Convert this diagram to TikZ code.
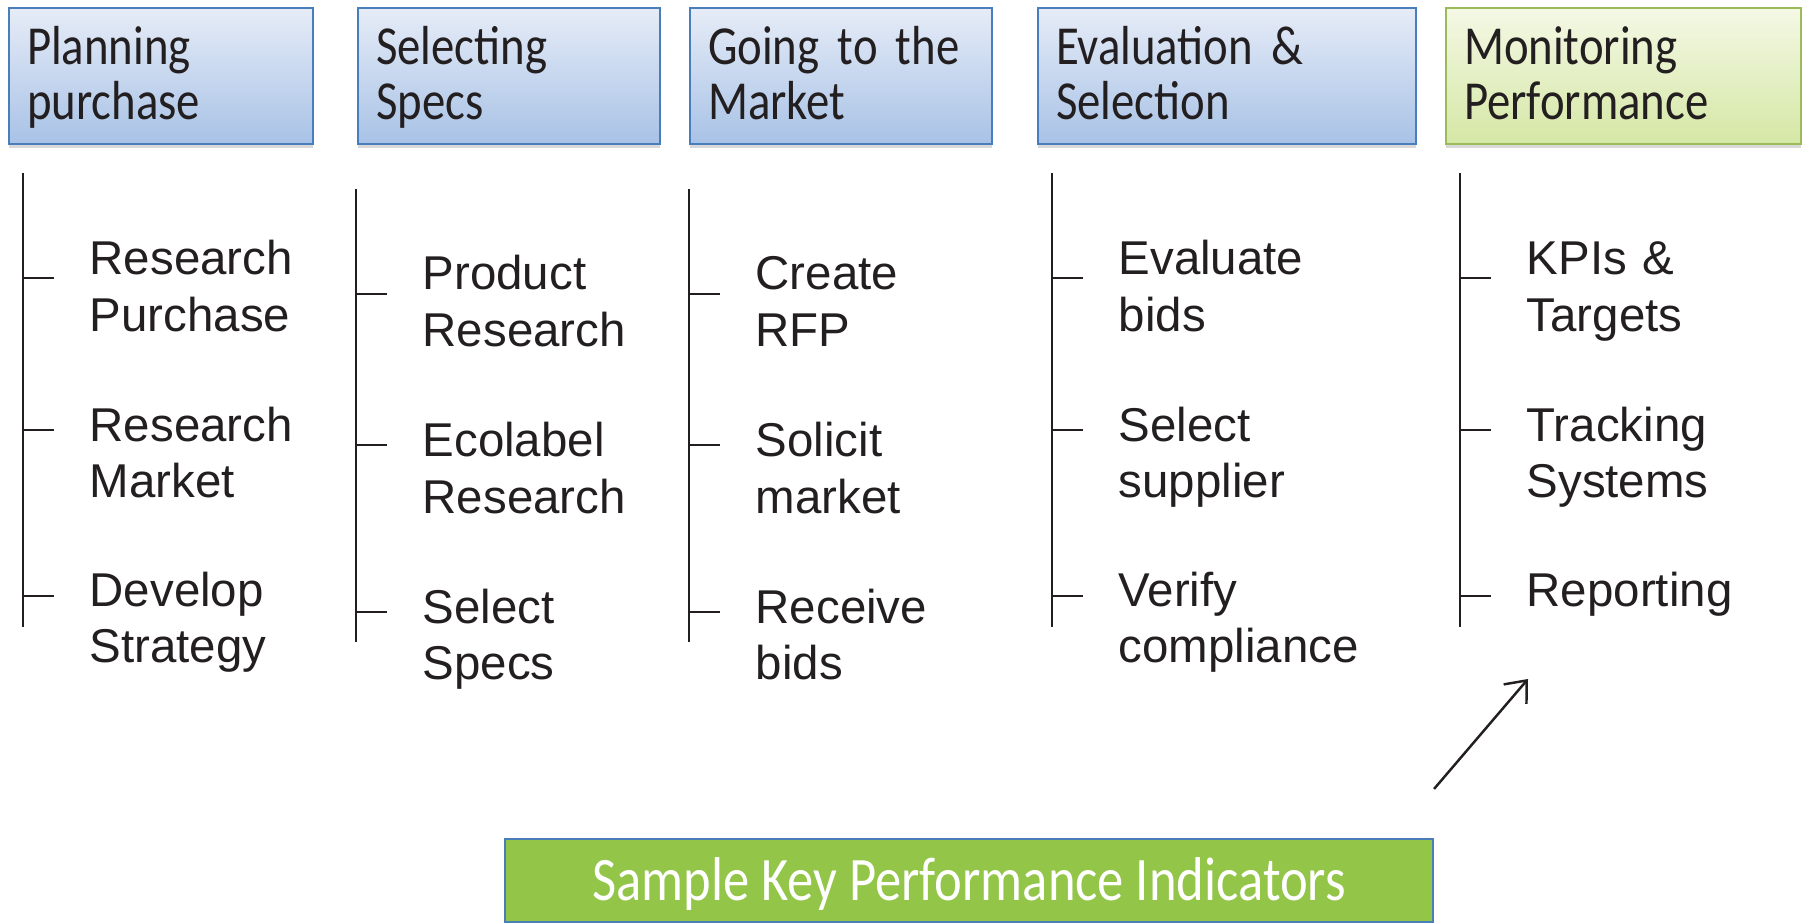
\documentclass[tikz,border=0pt]{standalone}
\usepackage{fontspec}
\usepackage{tikz}
\usetikzlibrary{arrows.meta,shadows}
\setmainfont{Liberation Sans}
\newfontfamily\hdfont[FakeStretch=0.85]{Carlito}
\DeclareRobustCommand\hdtext{\hdfont\fontsize{15.65}{15.65}\selectfont\fontdimen2\font=2.5pt\relax}

\definecolor{hdline}{HTML}{4A7EBB}
\definecolor{hdtop}{HTML}{E6ECF7}
\definecolor{hdbot}{HTML}{A8C2E6}
\definecolor{mptop}{HTML}{F4F8E5}
\definecolor{mpbot}{HTML}{D5E7A5}
\definecolor{mpline}{HTML}{9BBB59}
\definecolor{kpifill}{HTML}{92C548}
\definecolor{txtdark}{HTML}{231F20}

\tikzset{
  header/.style={draw=hdline, line width=0.6pt, top color=hdtop, bottom color=hdbot,
    anchor=north west, align=left, inner xsep=0.18cm, inner ysep=0pt,
    text height=0.56cm, text depth=0.80cm, text=txtdark, font=\hdtext,
    drop shadow={shadow xshift=0pt, shadow yshift=-0.04cm, opacity=0.3}},
  item/.style={anchor=base west, inner sep=0pt, text width=3cm, align=left,
    text=txtdark, font=\fontsize{13.5}{16.2}\selectfont},
  tree/.style={line width=0.55pt, draw=txtdark}
}

\begin{document}
\begin{tikzpicture}
  \useasboundingbox (0,0) rectangle (18.06,-9.24);

  % Etapes
  \node[header, text width=2.68cm] (plan) at (0.08,-0.07) {Planning\\purchase};
  \node[header, text width=2.66cm] (spec) at (3.57,-0.07) {Selecting\\Specs};
  \node[header, text width=2.66cm] (market) at (6.89,-0.07) {Going to the\\Market};
  \node[header, text width=3.42cm] (eval) at (10.37,-0.07) {Evaluation \&\\Selection};
  \node[header, text width=3.19cm, draw=mpline, top color=mptop, bottom color=mpbot] (monit) at (14.45,-0.07) {Monitoring\\Performance};

  % Planning purchase
  \coordinate (c1top) at (0.23,-1.73);
  \coordinate (c1bot) at (0.23,-6.27);
  \draw[tree] (c1top) -- (c1bot);
  \foreach \y in {-2.78,-4.30,-5.96} \draw[tree] (c1top |- 0,\y) -- ++(0.31,0);
  \node[item] (rpurch) at (0.89,-2.75) {Research\\Purchase};
  \node[item] (rmarket) at (0.89,-4.41) {Research\\Market};
  \node[item] (strat) at (0.89,-6.06) {Develop\\Strategy};

  % Selecting Specs
  \coordinate (c2top) at (3.56,-1.89);
  \coordinate (c2bot) at (3.56,-6.42);
  \draw[tree] (c2top) -- (c2bot);
  \foreach \y in {-2.94,-4.45,-6.12} \draw[tree] (c2top |- 0,\y) -- ++(0.31,0);
  \node[item] (prod) at (4.22,-2.90) {Product\\Research};
  \node[item] (eco) at (4.22,-4.57) {Ecolabel\\Research};
  \node[item] (sspec) at (4.22,-6.23) {Select\\Specs};

  % Going to the Market
  \coordinate (c3top) at (6.89,-1.89);
  \coordinate (c3bot) at (6.89,-6.42);
  \draw[tree] (c3top) -- (c3bot);
  \foreach \y in {-2.94,-4.45,-6.12} \draw[tree] (c3top |- 0,\y) -- ++(0.31,0);
  \node[item] (rfp) at (7.55,-2.90) {Create\\RFP};
  \node[item] (solicit) at (7.55,-4.57) {Solicit\\market};
  \node[item] (recv) at (7.55,-6.23) {Receive\\bids};

  % Evaluation & Selection
  \coordinate (c4top) at (10.52,-1.73);
  \coordinate (c4bot) at (10.52,-6.27);
  \draw[tree] (c4top) -- (c4bot);
  \foreach \y in {-2.78,-4.30,-5.96} \draw[tree] (c4top |- 0,\y) -- ++(0.31,0);
  \node[item] (evbids) at (11.18,-2.75) {Evaluate\\bids};
  \node[item] (supp) at (11.18,-4.41) {Select\\supplier};
  \node[item] (verif) at (11.18,-6.06) {Verify\\compliance};

  % Monitoring Performance
  \coordinate (c5top) at (14.60,-1.73);
  \coordinate (c5bot) at (14.60,-6.27);
  \draw[tree] (c5top) -- (c5bot);
  \foreach \y in {-2.78,-4.30,-5.96} \draw[tree] (c5top |- 0,\y) -- ++(0.31,0);
  \node[item] (kpis) at (15.26,-2.75) {KPIs \&\\Targets};
  \node[item] (track) at (15.26,-4.41) {Tracking\\Systems};
  \node[item] (report) at (15.26,-6.06) {Reporting};

  % KPI
  \node[draw=hdline, line width=0.6pt, fill=kpifill, text=white, minimum width=9.28cm,
    minimum height=0.83cm, text height=0.39cm, text depth=0cm,
    font=\hdfont\fontsize{17.6}{20}\selectfont] (kpi) at (9.69,-8.805)
    {Sample Key Performance Indicators};
  \coordinate (tail) at ([yshift=0.49cm]kpi.north east);
  \coordinate (head) at (15.28,-6.79);
  \draw[-{Straight Barb[length=1.8mm,width=3mm]}, line width=0.7pt, txtdark] (tail) -- (head);
\end{tikzpicture}
\end{document}
